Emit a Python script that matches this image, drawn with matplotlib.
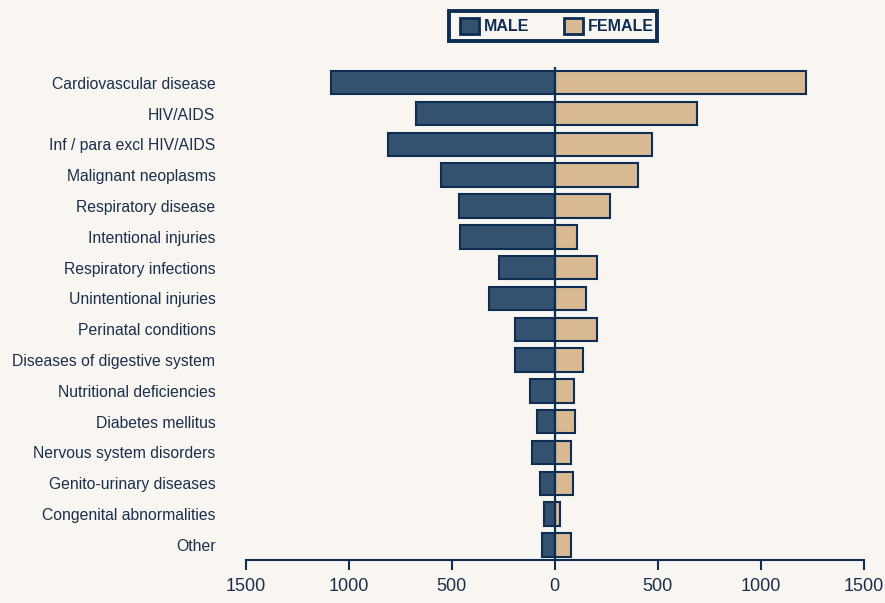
import numpy as np
import matplotlib.pyplot as plt
from matplotlib.patches import Patch, Rectangle

plt.rcParams['font.family'] = ['Liberation Sans Narrow', 'Liberation Sans', 'DejaVu Sans']

causes = ['Cardiovascular disease', 'HIV/AIDS', 'Inf / para excl HIV/AIDS', 'Malignant neoplasms',
          'Respiratory disease', 'Intentional injuries', 'Respiratory infections',
          'Unintentional injuries', 'Perinatal conditions', 'Diseases of digestive system',
          'Nutritional deficiencies', 'Diabetes mellitus', 'Nervous system disorders',
          'Genito-urinary diseases', 'Congenital abnormalities', 'Other']
male = [1086, 673, 812, 553, 466, 458, 273, 318, 192, 192, 119, 86, 111, 74, 52, 64]
female = [1218, 691, 470, 403, 269, 106, 206, 153, 206, 137, 92, 100, 80, 86, 25, 80]
xticks = [-1500, -1000, -500, 0, 500, 1000, 1500]

bg = '#f9f6f1'
navy = '#0d2d52'
male_col = '#34526f'
female_col = '#d8b993'
text_col = '#1a2f4d'

fig = plt.figure(figsize=(8.85, 6.03), dpi=100, facecolor=bg)
ax = fig.add_axes([0.2779, 0.0713, 0.698, 0.818])
ax.set_facecolor(bg)

y = np.arange(len(causes))
ax.barh(y, -np.array(male), height=0.76, color=male_col, edgecolor=navy, linewidth=1.5, zorder=2)
ax.barh(y, female, height=0.76, color=female_col, edgecolor=navy, linewidth=1.5, zorder=2)
ax.axvline(0, color=navy, linewidth=1.6, zorder=3)

ax.set_xlim(-1500, 1500)
ax.set_ylim(15.49, -0.52)
ax.set_xticks(xticks)
ax.set_xticklabels([str(abs(v)) for v in xticks])
ax.set_yticks(y)
ax.set_yticklabels(causes)

for s in ['top', 'right', 'left']:
    ax.spines[s].set_visible(False)
ax.spines['bottom'].set_color(navy)
ax.spines['bottom'].set_linewidth(1.5)
ax.tick_params(axis='x', direction='out', length=7, width=1.5, color=navy,
               labelsize=13, labelcolor=text_col, pad=6)
ax.tick_params(axis='y', length=0, pad=22, labelsize=11.3, labelcolor=text_col)

# legend box drawn separately so its padding can match
fig.patches.append(Rectangle((449 / 885, 1 - 41 / 603), 208 / 885, 30 / 603,
                             transform=fig.transFigure, facecolor=bg, edgecolor=navy,
                             linewidth=2.8, zorder=1))
handles = [Patch(facecolor=male_col, edgecolor=navy, linewidth=2, label='MALE'),
           Patch(facecolor=female_col, edgecolor=navy, linewidth=2, label='FEMALE')]
leg = fig.legend(handles=handles, loc='center', bbox_to_anchor=(557 / 885, 1 - 26 / 603), ncol=2,
                 frameon=False, handlelength=1.2, handleheight=1.2,
                 columnspacing=2.2, handletextpad=0.3, borderpad=0.0,
                 prop={'weight': 'bold', 'size': 11.5})
for t in leg.get_texts():
    t.set_color(navy)

fig.savefig('out.png', dpi=100, facecolor=bg)
